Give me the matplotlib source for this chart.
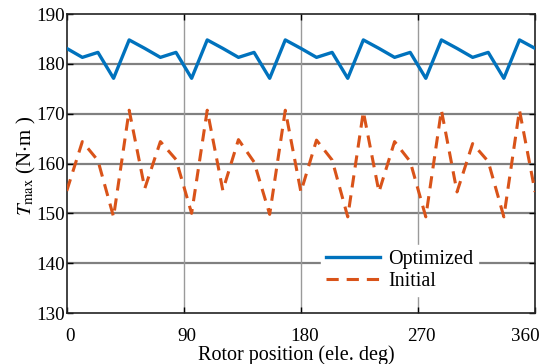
import matplotlib
matplotlib.use("Agg")
import matplotlib.pyplot as plt
import matplotlib.transforms as mtransforms
import numpy as np

plt.rcParams['font.family'] = ['Liberation Serif', 'DejaVu Serif']
plt.rcParams['mathtext.fontset'] = 'stix'

rotor_deg = list(range(0, 361, 12))
optimized = [183.1, 181.3, 182.3, 177.1, 184.8,
             183.1, 181.3, 182.3, 177.1, 184.8,
             183.1, 181.3, 182.3, 177.1, 184.8,
             183.1, 181.3, 182.3, 177.1, 184.8,
             183.1, 181.3, 182.3, 177.1, 184.8,
             183.1, 181.3, 182.3, 177.1, 184.8,
             183.1]
initial = [154.5, 164.4, 160.6, 149.3, 170.7,
           155.0, 164.4, 160.8, 150.0, 170.7,
           154.6, 164.8, 160.3, 149.8, 170.7,
           154.3, 164.7, 160.7, 149.3, 170.4,
           154.3, 164.4, 160.4, 149.3, 170.7,
           154.3, 164.0, 160.4, 149.3, 170.7,
           154.3]
xticks = [0, 90, 180, 270, 360]
yticks = [130, 140, 150, 160, 170, 180, 190]

fig = plt.figure(figsize=(5.46, 3.64), dpi=100)
ax = fig.add_axes([0.1222, 0.140, 0.8578, 0.8215])

ax.plot(rotor_deg, optimized, color='#0072BD', lw=2.4, label='Optimized', zorder=3)
ax.plot(rotor_deg, initial, color='#D95319', lw=2.2, dashes=(4, 2.6), label='Initial', zorder=3)

ax.set_xlim(0, 360)
ax.set_ylim(130, 190)
ax.set_xticks(xticks)
ax.set_yticks(yticks)
for y in yticks[1:-1]:
    ax.axhline(y, color='#808080', lw=1.6, zorder=1)
for x in xticks[1:-1]:
    ax.axvline(x, color='#9a9a9a', lw=1.0, zorder=1)

ax.tick_params(direction='in', top=True, right=True, length=4, width=1,
               labelsize=13.7, colors='black')
ax.tick_params(axis='x', pad=11)
ax.tick_params(axis='y', pad=1)
for s in ax.spines.values():
    s.set_linewidth(1.2)
    s.set_color('#222222')

fig.canvas.draw()
labels = ax.get_xticklabels()
for i, lab in enumerate(labels):
    if i == len(labels) - 1:
        lab.set_ha('right')
        lab.set_transform(lab.get_transform() + mtransforms.ScaledTranslation(5/100, 0, fig.dpi_scale_trans))
    else:
        lab.set_transform(lab.get_transform() + mtransforms.ScaledTranslation(3.5/100, 0, fig.dpi_scale_trans))

ax.set_xlabel('Rotor position (ele. deg)', fontsize=14.5)
ax.xaxis.set_label_coords(0.49, -0.107)
ax.set_ylabel(r'$T_{\mathrm{max}}$ (N$\cdot$m )', fontsize=15)
ax.yaxis.set_label_coords(-0.085, 0.493)
ax.yaxis.label.set_va('center')

leg = ax.legend(loc='lower right', bbox_to_anchor=(0.90, 0.022), frameon=True,
                fontsize=14.5, handlelength=2.7, handletextpad=0.4,
                borderpad=0.25, labelspacing=0.15, fancybox=False)
leg.get_frame().set_edgecolor('white')
leg.get_frame().set_facecolor('white')
leg.get_frame().set_alpha(1)
leg.set_zorder(5)

fig.savefig('out.png', dpi=100)
